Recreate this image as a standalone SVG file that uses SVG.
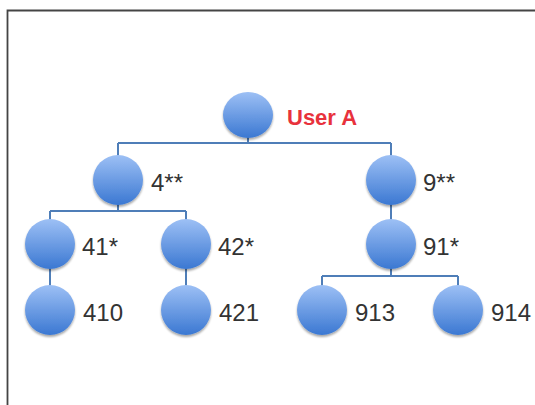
<svg xmlns="http://www.w3.org/2000/svg" width="535" height="405" viewBox="0 0 535 405">
<defs>
<linearGradient id="g" x1="0" y1="0" x2="0" y2="1">
<stop offset="0" stop-color="#9dc0f5"/>
<stop offset="1" stop-color="#3b78d2"/>
</linearGradient>
<filter id="sh" x="-20%" y="-20%" width="140%" height="150%">
<feGaussianBlur in="SourceAlpha" stdDeviation="1.2"/>
<feOffset dy="1.5" result="b"/>
<feComponentTransfer><feFuncA type="linear" slope="0.35"/></feComponentTransfer>
<feMerge><feMergeNode/><feMergeNode in="SourceGraphic"/></feMerge>
</filter>
</defs>
<style>
.n{fill:url(#g);filter:url(#sh)}
.c{fill:none;stroke:#4f7eb8;stroke-width:2}
.t{font-family:"Liberation Sans",Arial,sans-serif;font-size:24px;fill:#333}
.r{font-family:"Liberation Sans",Arial,sans-serif;font-size:22px;font-weight:bold;fill:#e8323c}
</style>
<rect width="535" height="405" fill="#fff"/>
<path d="M7.5 405 V10.5 H535" fill="none" stroke="#444" stroke-width="1.8"/>
<g id="connectors">
<path class="c" d="M248 137 V143 M118 143 H391 M118 143 V156 M391 143 V156"/>
<path class="c" d="M118 204 V211 M50 211 H186 M50 211 V221 M186 211 V221"/>
<path class="c" d="M50 268 V286 M186 268 V286"/>
<path class="c" d="M391 204 V221"/>
<path class="c" d="M391 268 V276 M322 276 H458 M322 276 V286 M458 276 V286"/>
</g>
<g id="userA"><ellipse class="n" cx="248" cy="115" rx="25" ry="23"/><text class="r" x="287" y="125">User A</text></g>
<g id="n4"><circle class="n" cx="118" cy="180" r="25"/><text class="t" x="151" y="191">4**</text></g>
<g id="n9"><circle class="n" cx="391" cy="180" r="25"/><text class="t" x="423" y="191">9**</text></g>
<g id="n41"><circle class="n" cx="50" cy="244" r="25"/><text class="t" x="82" y="255">41*</text></g>
<g id="n42"><circle class="n" cx="186" cy="244" r="25"/><text class="t" x="218" y="255">42*</text></g>
<g id="n91"><circle class="n" cx="391" cy="244" r="25"/><text class="t" x="423" y="255">91*</text></g>
<g id="n410"><circle class="n" cx="50" cy="310" r="25"/><text class="t" x="83" y="321">410</text></g>
<g id="n421"><circle class="n" cx="186" cy="310" r="25"/><text class="t" x="219" y="321">421</text></g>
<g id="n913"><circle class="n" cx="322" cy="310" r="25"/><text class="t" x="355" y="321">913</text></g>
<g id="n914"><circle class="n" cx="458" cy="310" r="25"/><text class="t" x="491" y="321">914</text></g>
</svg>
